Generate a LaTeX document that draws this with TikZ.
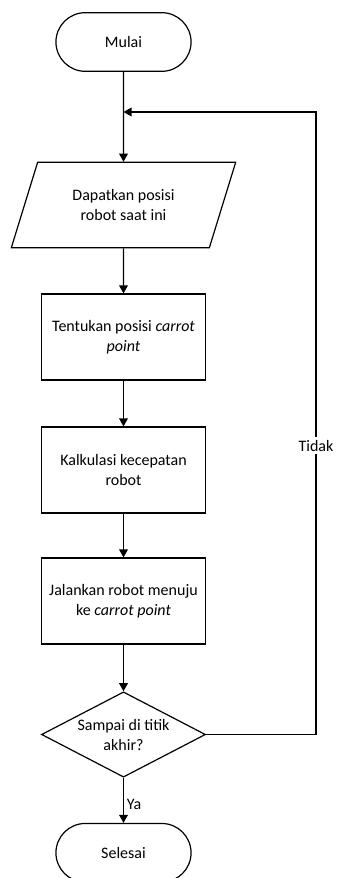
\documentclass[tikz,border=0pt]{standalone}
\usepackage{fontspec}
\setmainfont{Carlito}
\usepackage{tikz}
\usetikzlibrary{shapes.geometric, shapes.misc, arrows.meta, positioning, calc}

\begin{document}
\begin{tikzpicture}[
    x=0.75pt, y=-0.75pt,
    every node/.style={font=\fontsize{12}{15}\selectfont},
    terminal/.style={rounded rectangle, draw, line width=0.9pt, minimum width=108pt, minimum height=44pt, align=center},
    io/.style={trapezium, trapezium left angle=63.4, trapezium right angle=116.6, trapezium stretches=true, draw, line width=0.9pt, minimum width=170pt, minimum height=64pt, inner sep=0pt, align=center},
    process/.style={rectangle, draw, line width=0.9pt, minimum width=123pt, minimum height=64.5pt, align=center},
    decision/.style={diamond, aspect=2, draw, line width=0.9pt, minimum width=123pt, minimum height=64pt, inner sep=0pt, align=center},
    lbl/.style={fill=white, inner sep=2pt},
    arr/.style={-{Triangle[width=6.5pt, length=6pt]}, line width=0.9pt}
]
\useasboundingbox (0,0) rectangle (336,878);

% Start
\node[terminal] (mulai) at (123.5, 42) {Mulai};
\coordinate (masuk) at (123.5, 112);

% Steps
\node[io] (posisi) at (123.5, 205) {Dapatkan posisi\\robot saat ini};
\node[process] (carrot) at (123.5, 337) {Tentukan posisi \textit{carrot}\\\textit{point}};
\node[process] (kecepatan) at (123.5, 470) {Kalkulasi kecepatan\\robot};
\node[process] (jalan) at (123.5, 601) {Jalankan robot menuju\\ke \textit{carrot point}};
\node[decision] (cek) at (123.5, 734.5) {Sampai di titik\\akhir?};

% End
\node[terminal] (selesai) at (123.5, 852.8) {Selesai};

% Connectors
\draw[arr] (mulai.south) -- (posisi.north);
\draw[arr] (posisi.south) -- (carrot.north);
\draw[arr] (carrot.south) -- (kecepatan.north);
\draw[arr] (kecepatan.south) -- (jalan.north);
\draw[arr] (jalan.south) -- (cek.north);
\draw[arr] (cek.south) -- node[right, pos=0.6, inner sep=2pt] {Ya} (selesai.north);

% Loop back
\coordinate (balik) at (316, 112);
\draw[arr] (cek.east) -| node[lbl, pos=0.732] {Tidak} (balik) -- (masuk);
\end{tikzpicture}
\end{document}
